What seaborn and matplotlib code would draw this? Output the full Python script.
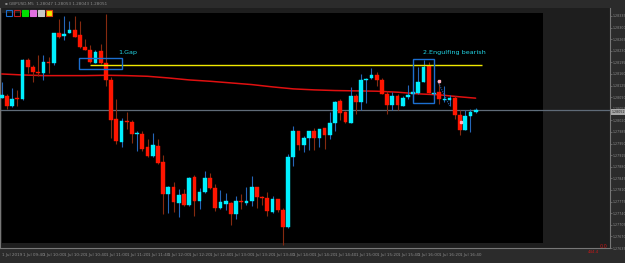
import numpy as np
import pandas as pd
import matplotlib
matplotlib.use("Agg")
import matplotlib.pyplot as plt
import seaborn as sns
from matplotlib.patches import Rectangle

# M5 candles, 1 Jul (prices)
opens = [1.28089, 1.28094, 1.28062, 1.28085, 1.28083, 1.28202, 1.28182, 1.28166, 1.28164, 1.28195,
         1.28194, 1.28285, 1.28274, 1.28285, 1.28294, 1.28277, 1.28241, 1.28233, 1.28194, 1.28230,
         1.28194, 1.28141, 1.28023, 1.27956, 1.28018, 1.28014, 1.27980, 1.27978, 1.27939, 1.27913,
         1.27943, 1.27893, 1.27797, 1.27818, 1.27772, 1.27799, 1.27764, 1.27849, 1.27776, 1.27803,
         1.27846, 1.27816, 1.27755, 1.27769, 1.27772, 1.27737, 1.27775, 1.27772, 1.27777, 1.27819,
         1.27790, 1.27787, 1.27744, 1.27783, 1.27749, 1.27698, 1.27909, 1.27987, 1.27946, 1.27967,
         1.27987, 1.27966, 1.27996, 1.27977, 1.28012, 1.28079, 1.28046, 1.28013, 1.28094, 1.28074,
         1.28142, 1.28148, 1.28156, 1.28142, 1.28100, 1.28066, 1.28094, 1.28064, 1.28090, 1.28101,
         1.28103, 1.28136, 1.28185, 1.28101, 1.28105, 1.28081, 1.28082, 1.28088, 1.28037, 1.27992,
         1.28033, 1.28044]
closes = [1.28096, 1.28062, 1.28085, 1.28083, 1.28202, 1.28182, 1.28167, 1.28162, 1.28195, 1.28192,
          1.28283, 1.28271, 1.28281, 1.28294, 1.28273, 1.28241, 1.28233, 1.28195, 1.28226, 1.28192,
          1.28141, 1.28020, 1.27958, 1.28018, 1.28015, 1.27979, 1.27982, 1.27934, 1.27912, 1.27945,
          1.27890, 1.27797, 1.27819, 1.27773, 1.27796, 1.27765, 1.27847, 1.27776, 1.27803, 1.27845,
          1.27815, 1.27755, 1.27775, 1.27778, 1.27737, 1.27777, 1.27773, 1.27776, 1.27819, 1.27788,
          1.27786, 1.27747, 1.27783, 1.27749, 1.27699, 1.27910, 1.27987, 1.27946, 1.27967, 1.27987,
          1.27967, 1.27994, 1.27976, 1.28013, 1.28076, 1.28043, 1.28014, 1.28094, 1.28074, 1.28141,
          1.28144, 1.28156, 1.28142, 1.28100, 1.28065, 1.28094, 1.28066, 1.28088, 1.28096, 1.28105,
          1.28135, 1.28182, 1.28103, 1.28104, 1.28084, 1.28084, 1.28089, 1.28037, 1.27990, 1.28032,
          1.28044, 1.28051]
highs = [1.28135, 1.28101, 1.28117, 1.28113, 1.28204, 1.28207, 1.28187, 1.28216, 1.28216, 1.28212,
         1.28285, 1.28327, 1.28336, 1.28320, 1.28334, 1.28320, 1.28264, 1.28247, 1.28231, 1.28251,
         1.28341, 1.28151, 1.28084, 1.28027, 1.28044, 1.28020, 1.27989, 1.27989, 1.27964, 1.27983,
         1.27964, 1.27917, 1.27823, 1.27834, 1.27812, 1.27812, 1.27848, 1.27855, 1.27815, 1.27868,
         1.27860, 1.27828, 1.27810, 1.27801, 1.27773, 1.27791, 1.27797, 1.27818, 1.27852, 1.27820,
         1.27793, 1.27803, 1.27793, 1.27784, 1.27757, 1.27920, 1.28002, 1.27988, 1.27972, 1.27988,
         1.27997, 1.27995, 1.27997, 1.28046, 1.28077, 1.28084, 1.28048, 1.28120, 1.28101, 1.28161,
         1.28147, 1.28177, 1.28165, 1.28149, 1.28108, 1.28105, 1.28101, 1.28094, 1.28127, 1.28113,
         1.28182, 1.28202, 1.28197, 1.28113, 1.28143, 1.28123, 1.28098, 1.28094, 1.28052, 1.28052,
         1.28054, 1.28058]
lows = [1.28088, 1.28054, 1.28061, 1.28064, 1.28082, 1.28162, 1.28136, 1.28153, 1.28141, 1.28162,
        1.28187, 1.28269, 1.28261, 1.28284, 1.28272, 1.28239, 1.28231, 1.28194, 1.28192, 1.28191,
        1.28123, 1.27966, 1.27948, 1.27939, 1.27993, 1.27951, 1.27929, 1.27929, 1.27911, 1.27911,
        1.27889, 1.27738, 1.27740, 1.27745, 1.27728, 1.27763, 1.27763, 1.27732, 1.27752, 1.27802,
        1.27812, 1.27748, 1.27754, 1.27751, 1.27705, 1.27722, 1.27754, 1.27765, 1.27761, 1.27755,
        1.27766, 1.27732, 1.27742, 1.27745, 1.27645, 1.27694, 1.27881, 1.27932, 1.27926, 1.27930,
        1.27932, 1.27939, 1.27935, 1.27963, 1.27987, 1.28020, 1.28013, 1.28012, 1.28039, 1.28050,
        1.28072, 1.28144, 1.28123, 1.28099, 1.28039, 1.28051, 1.28052, 1.28063, 1.28083, 1.28079,
        1.28101, 1.28135, 1.28102, 1.28096, 1.28068, 1.28074, 1.28064, 1.28025, 1.27976, 1.27991,
        1.27985, 1.28043]

# moving average, read every 4 bars
ma_bars = [0, 4, 8, 12, 16, 20, 24, 28, 32, 36, 40, 44, 48, 52, 56, 60, 64, 68, 72, 76, 80, 84, 88, 91]
ma_vals = [1.28160, 1.28157, 1.28155, 1.28155, 1.28155, 1.28156, 1.28155, 1.28153, 1.28148, 1.28142,
           1.28138, 1.28133, 1.28128, 1.28121, 1.28115, 1.28112, 1.28110, 1.28109, 1.28108, 1.28105,
           1.28100, 1.28097, 1.28091, 1.28087]

price_ticks = [1.28335 - 0.00035 * k for k in range(21)]
time_labels = ["1 Jul 2019"] + [f"1 Jul {h:02d}:{m:02d}" for h, m in
               [(9, 40), (10, 0), (10, 20), (10, 40), (11, 0), (11, 20), (11, 40), (12, 0),
                (12, 20), (12, 40), (13, 0), (13, 20), (13, 40), (14, 0), (14, 20), (14, 40),
                (15, 0), (15, 20), (15, 40), (16, 0), (16, 20), (16, 40)]]
last_price = 1.28052
level_price = 1.28187

df = pd.DataFrame({"open": opens, "close": closes, "high": highs, "low": lows})
df["bar"] = np.arange(len(df))
df["up"] = df["close"] >= df["open"]

sns.set_style("dark")
plt.rcParams["font.family"] = ["DejaVu Sans"]

fig = plt.figure(figsize=(6.25, 2.63), dpi=100, facecolor="#2b2b2b")
ax = fig.add_axes([0, 15 / 263, 610 / 625, 240 / 263])
ax.set_facecolor("#1e1e1e")
ax.set_xlim(-0.33, 116.8)
ax.set_ylim(1.27651, 1.28359)

# black chart area
ax.add_patch(Rectangle((-0.02, 1.27651), 103.9, 1.28345 - 1.27651, facecolor="black",
                       edgecolor="none", zorder=0))

# current price line
ax.axhline(last_price, color="#5f6b78", lw=0.9, zorder=1)

# moving average
sns.lineplot(x=ma_bars, y=ma_vals, ax=ax, color="#e01010", lw=1.1, zorder=2)

# candles
for _, r in df.iterrows():
    wick = "#2566b8" if r["up"] else "#862a10"
    body = "#00f0ff" if r["up"] else "#ff1500"
    ax.vlines(r["bar"], r["low"], r["high"], color=wick, lw=0.8, zorder=3)
    lo = min(r["open"], r["close"])
    h = max(abs(r["close"] - r["open"]), 0.00003)
    ax.bar(r["bar"], h, bottom=lo, width=0.72, color=body, edgecolor=body, lw=0.3, zorder=4)

# gap level and pattern boxes
ax.hlines(level_price, 16.9, 92.2, color="#f0e800", lw=1.0, zorder=5)
ax.add_patch(Rectangle((14.8, 1.28176), 8.2, 0.00031, fill=False, edgecolor="#1c6fd0", lw=1.0, zorder=5))
ax.add_patch(Rectangle((79.0, 1.28072), 4.1, 0.00134, fill=False, edgecolor="#1c6fd0", lw=1.0, zorder=5))
ax.text(22.4, 1.28226, "1.Gap", color="#22d8e8", fontsize=4.6, va="center", ha="left", zorder=6)
ax.text(80.8, 1.28224, "2.Engulfing bearish", color="#22d8e8", fontsize=4.6, va="center", ha="left", zorder=6)
ax.plot([83.7, 86.0], [1.28138, 1.28064], color="#2566b8", lw=0.8, ls=(0, (1, 1)), zorder=5)
ax.plot([84.0, 88.1], [1.28138, 1.28014], ls="none", marker="s", ms=1.6, color="#ffb0c0", zorder=6)

# right price scale
ax.yaxis.tick_right()
ax.set_yticks(price_ticks)
ax.set_yticklabels([f"{p:.5f}" for p in price_ticks])
ax.tick_params(axis="y", colors="#7a7a7a", labelsize=2.3, length=1.5, width=0.5, pad=0.6,
               labelcolor="#8a8a8a")
ax.text(1.0025, (last_price - 1.27651) / (1.28359 - 1.27651), f"{last_price:.5f}",
        transform=ax.transAxes, fontsize=2.3, color="#202020", va="center", ha="left",
        bbox=dict(boxstyle="square,pad=0.3", fc="#a8a8a8", ec="none"), zorder=7, clip_on=False)

# time scale
ax.set_xticks(np.arange(0, 92, 4))
ax.set_xticklabels(time_labels, ha="left")
ax.tick_params(axis="x", colors="#7a7a7a", labelsize=3.0, length=2, width=0.5, pad=1.5,
               labelcolor="#8a8a8a")
ax.grid(False)
for side, sp in ax.spines.items():
    sp.set_color("#777777")
    sp.set_linewidth(0.8)
ax.spines["top"].set_visible(False)

# header strip and toolbar swatches
fig.text(0.008, 1 - 4 / 263, "▪ GBPUSD,M5  1.28047 1.28053 1.28043 1.28051", color="#8a8a8a",
         fontsize=3.0, va="center", ha="left")
swatches = [("none", "#1c6fd0"), ("none", "#c02020"), ("#00e000", "#00e000"),
            ("#e070e0", "#e070e0"), ("#c8c8c8", "#c8c8c8"), ("#f0e800", "#e04010")]
for i, (fc, ec) in enumerate(swatches):
    x0 = (6 + 8.1 * i) / 625
    fig.patches.append(Rectangle((x0, 1 - 15.5 / 263), 6 / 625, 6 / 263, transform=fig.transFigure,
                                 facecolor=fc, edgecolor=ec, lw=0.8, zorder=10))

fig.text(600 / 625, 1 - 246 / 263, "0.0", color="#c01818", fontsize=3.5, ha="left", va="center")
fig.text(588 / 625, 1 - 252 / 263, "444.4", color="#c01818", fontsize=3.0, ha="left", va="center")

fig.savefig("out.png", dpi=100, facecolor=fig.get_facecolor())
